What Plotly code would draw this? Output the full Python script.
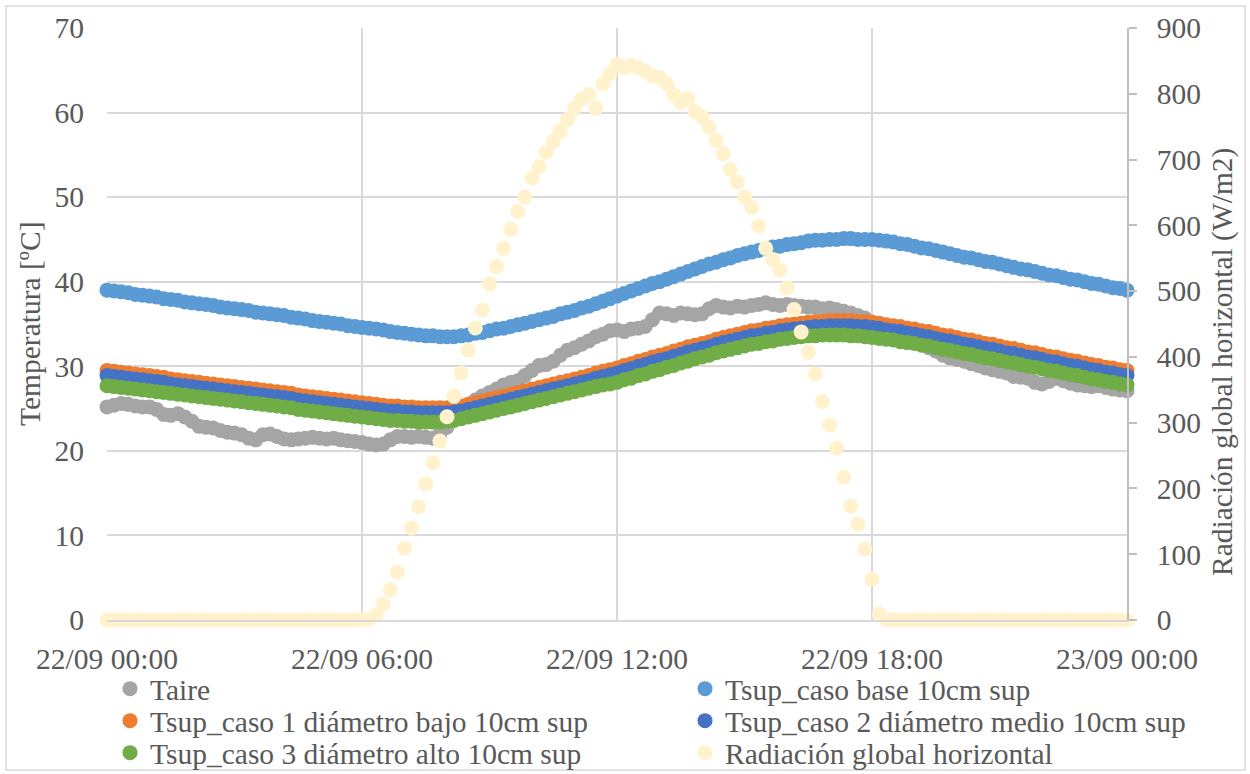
import pandas as pd
import plotly.graph_objects as go

# ---------------- data (10-minute samples, 22/09 00:00 -> 23/09 00:00) ----------------
taire = [
    25.2, 25.4, 25.6, 25.5, 25.3, 25.2,
    25.2, 24.9, 24.3, 24.2, 24.4, 24.0,
    23.5, 22.9, 22.8, 22.7, 22.4, 22.2,
    22.1, 21.9, 21.5, 21.3, 21.9, 22.0,
    21.7, 21.4, 21.3, 21.4, 21.5, 21.6,
    21.5, 21.4, 21.5, 21.3, 21.2, 21.1,
    21.0, 20.8, 20.7, 20.8, 21.3, 21.7,
    21.7, 21.6, 21.7, 21.6, 21.5, 22.0,
    22.8, 23.7, 24.6, 25.4, 26.0, 26.5,
    26.9, 27.3, 27.8, 28.1, 28.3, 28.9,
    29.5, 30.1, 30.2, 30.6, 31.3, 31.9,
    32.2, 32.6, 33.0, 33.5, 33.8, 34.2,
    34.3, 34.1, 34.4, 34.5, 34.7, 35.5,
    36.3, 36.2, 36.0, 36.3, 36.2, 36.1,
    36.2, 36.8, 37.2, 37.0, 36.9, 37.1,
    37.0, 37.2, 37.3, 37.5, 37.3, 37.2,
    37.3, 37.2, 37.1, 37.0, 37.0, 36.8,
    36.9, 36.7, 36.5, 36.3, 36.0, 35.7,
    35.2, 34.8, 34.4, 34.1, 33.8, 33.4,
    33.0, 32.6, 32.2, 31.8, 31.3, 31.0,
    30.8, 30.6, 30.3, 30.1, 29.8, 29.6,
    29.4, 29.2, 28.8, 28.7, 28.6, 28.1,
    27.9, 28.2, 28.6, 28.3, 28.0, 27.8,
    27.7, 27.6, 27.7, 27.5, 27.3, 27.2,
    27.1,
]

tsup_base = [
    39.0, 38.9, 38.8, 38.7, 38.5, 38.4,
    38.3, 38.2, 38.0, 37.9, 37.8, 37.6,
    37.5, 37.4, 37.3, 37.2, 37.0, 36.9,
    36.8, 36.7, 36.6, 36.4, 36.3, 36.2,
    36.1, 36.0, 35.8, 35.7, 35.6, 35.4,
    35.3, 35.2, 35.1, 35.0, 34.8, 34.7,
    34.6, 34.5, 34.4, 34.3, 34.1, 34.0,
    33.9, 33.8, 33.7, 33.6, 33.6, 33.5,
    33.5, 33.5, 33.6, 33.7, 33.9, 34.0,
    34.2, 34.4, 34.5, 34.7, 34.9, 35.1,
    35.3, 35.5, 35.7, 35.9, 36.2, 36.4,
    36.6, 36.9, 37.1, 37.4, 37.7, 38.0,
    38.3, 38.6, 38.9, 39.2, 39.5, 39.8,
    40.0, 40.3, 40.6, 40.9, 41.2, 41.5,
    41.8, 42.1, 42.3, 42.6, 42.8, 43.1,
    43.3, 43.5, 43.7, 43.9, 44.1, 44.2,
    44.4, 44.5, 44.6, 44.8, 44.9, 44.9,
    45.0, 45.0, 45.1, 45.1, 45.0, 45.0,
    45.0, 44.9, 44.8, 44.7, 44.5, 44.4,
    44.2, 44.0, 43.9, 43.7, 43.5, 43.3,
    43.1, 42.9, 42.8, 42.6, 42.4, 42.3,
    42.1, 41.9, 41.7, 41.5, 41.4, 41.2,
    41.0, 40.8, 40.7, 40.5, 40.3, 40.2,
    40.0, 39.8, 39.7, 39.5, 39.3, 39.2,
    39.0,
]

tsup_caso1 = [
    29.5, 29.4, 29.3, 29.2, 29.1, 29.0,
    28.9, 28.8, 28.7, 28.5, 28.4, 28.3,
    28.2, 28.1, 28.0, 27.9, 27.8, 27.7,
    27.6, 27.5, 27.4, 27.3, 27.2, 27.1,
    27.0, 26.9, 26.8, 26.6, 26.5, 26.4,
    26.3, 26.2, 26.1, 26.0, 25.9, 25.8,
    25.7, 25.6, 25.5, 25.4, 25.3, 25.3,
    25.2, 25.2, 25.1, 25.1, 25.1, 25.1,
    25.1, 25.2, 25.3, 25.5, 25.7, 25.9,
    26.1, 26.3, 26.5, 26.7, 26.9, 27.1,
    27.3, 27.5, 27.7, 27.9, 28.1, 28.3,
    28.5, 28.7, 28.9, 29.2, 29.4, 29.6,
    29.8, 30.1, 30.3, 30.6, 30.8, 31.1,
    31.3, 31.5, 31.8, 32.0, 32.3, 32.5,
    32.7, 32.9, 33.2, 33.4, 33.6, 33.8,
    34.0, 34.2, 34.3, 34.5, 34.6, 34.8,
    34.9, 35.0, 35.1, 35.2, 35.3, 35.3,
    35.4, 35.4, 35.4, 35.4, 35.3, 35.3,
    35.2, 35.1, 34.9, 34.8, 34.7, 34.5,
    34.4, 34.2, 34.1, 33.9, 33.7, 33.6,
    33.4, 33.2, 33.1, 32.9, 32.7, 32.6,
    32.4, 32.2, 32.1, 31.9, 31.7, 31.6,
    31.4, 31.2, 31.1, 30.9, 30.7, 30.6,
    30.4, 30.2, 30.1, 29.9, 29.8, 29.6,
    29.5,
]

tsup_caso2 = [
    28.9, 28.8, 28.7, 28.6, 28.5, 28.4,
    28.3, 28.2, 28.1, 27.9, 27.8, 27.7,
    27.6, 27.5, 27.4, 27.3, 27.2, 27.1,
    27.0, 26.9, 26.8, 26.7, 26.6, 26.5,
    26.4, 26.3, 26.2, 26.0, 25.9, 25.8,
    25.7, 25.6, 25.5, 25.4, 25.3, 25.2,
    25.1, 25.0, 24.9, 24.8, 24.7, 24.7,
    24.6, 24.6, 24.5, 24.5, 24.5, 24.5,
    24.5, 24.6, 24.7, 24.9, 25.1, 25.3,
    25.5, 25.7, 25.9, 26.1, 26.3, 26.5,
    26.7, 26.9, 27.1, 27.3, 27.5, 27.7,
    27.9, 28.1, 28.3, 28.6, 28.8, 29.0,
    29.2, 29.5, 29.7, 30.0, 30.2, 30.5,
    30.7, 30.9, 31.2, 31.4, 31.7, 31.9,
    32.1, 32.3, 32.6, 32.8, 33.0, 33.2,
    33.4, 33.6, 33.7, 33.9, 34.0, 34.2,
    34.3, 34.4, 34.5, 34.6, 34.7, 34.7,
    34.8, 34.8, 34.8, 34.8, 34.7, 34.7,
    34.6, 34.5, 34.3, 34.2, 34.1, 33.9,
    33.8, 33.6, 33.5, 33.3, 33.1, 33.0,
    32.8, 32.6, 32.5, 32.3, 32.1, 32.0,
    31.8, 31.6, 31.5, 31.3, 31.1, 31.0,
    30.8, 30.6, 30.5, 30.3, 30.1, 30.0,
    29.8, 29.6, 29.5, 29.3, 29.2, 29.0,
    28.9,
]

tsup_caso3 = [
    27.7, 27.6, 27.5, 27.4, 27.3, 27.2,
    27.1, 27.0, 26.9, 26.8, 26.7, 26.6,
    26.5, 26.4, 26.3, 26.2, 26.1, 26.0,
    25.9, 25.8, 25.7, 25.6, 25.5, 25.4,
    25.3, 25.2, 25.1, 24.9, 24.8, 24.7,
    24.6, 24.5, 24.4, 24.3, 24.2, 24.1,
    24.0, 23.9, 23.8, 23.7, 23.6, 23.6,
    23.5, 23.5, 23.4, 23.4, 23.4, 23.4,
    23.5, 23.6, 23.8, 24.0, 24.2, 24.4,
    24.6, 24.8, 25.0, 25.2, 25.4, 25.6,
    25.8, 26.0, 26.2, 26.4, 26.6, 26.8,
    27.0, 27.2, 27.4, 27.6, 27.8, 27.9,
    28.1, 28.4, 28.6, 28.9, 29.1, 29.4,
    29.6, 29.9, 30.1, 30.4, 30.6, 30.9,
    31.1, 31.3, 31.6, 31.8, 32.0, 32.2,
    32.4, 32.6, 32.7, 32.9, 33.0, 33.2,
    33.3, 33.4, 33.5, 33.6, 33.6, 33.7,
    33.7, 33.7, 33.7, 33.6, 33.6, 33.5,
    33.4, 33.3, 33.2, 33.1, 32.9, 32.8,
    32.7, 32.5, 32.4, 32.2, 32.0, 31.9,
    31.7, 31.5, 31.4, 31.2, 31.0, 30.9,
    30.7, 30.5, 30.4, 30.2, 30.0, 29.9,
    29.7, 29.5, 29.4, 29.2, 29.0, 28.9,
    28.7, 28.5, 28.4, 28.2, 28.1, 27.9,
    27.8,
]

radiacion = [
    0, 0, 0, 0, 0, 0,
    0, 0, 0, 0, 0, 0,
    0, 0, 0, 0, 0, 0,
    0, 0, 0, 0, 0, 0,
    0, 0, 0, 0, 0, 0,
    0, 0, 0, 0, 0, 0,
    0, 1, 8, 24, 46, 73,
    109, 140, 172, 207, 239, 272,
    309, 340, 375, 410, 444, 471,
    511, 537, 565, 594, 621, 643,
    672, 689, 711, 728, 743, 761,
    778, 792, 799, 778, 815, 830,
    845, 840, 843, 840, 834, 827,
    825, 815, 799, 787, 792, 773,
    765, 749, 729, 709, 685, 666,
    643, 627, 599, 565, 548, 532,
    505, 472, 438, 407, 374, 332,
    296, 261, 217, 173, 146, 108,
    62, 9, 1, 0, 0, 0,
    0, 0, 0, 0, 0, 0,
    0, 0, 0, 0, 0, 0,
    0, 0, 0, 0, 0, 0,
    0, 0, 0, 0, 0, 0,
    0, 0, 0, 0, 0, 0,
    0,
]

series_names = [
    "Taire",
    "Tsup_caso base 10cm sup",
    "Tsup_caso 1 diámetro bajo 10cm sup",
    "Tsup_caso 2 diámetro medio 10cm sup",
    "Tsup_caso 3 diámetro alto 10cm sup",
    "Radiación global horizontal",
]
series_colors = ["#A5A5A5", "#5B9BD5", "#ED7D31", "#4472C4", "#70AD47", "#FFF2CC"]

x_tick_vals = ["2023-09-22 00:00", "2023-09-22 06:00", "2023-09-22 12:00",
               "2023-09-22 18:00", "2023-09-23 00:00"]
x_tick_text = ["22/09 00:00", "22/09 06:00", "22/09 12:00", "22/09 18:00", "23/09 00:00"]

times = pd.date_range("2023-09-22 00:00", periods=len(taire), freq="10min")

# ---------------- figure ----------------
FONT = "Liberation Serif"
FS = 29.5
TXT = "#595959"
W, H = 1250, 774
ML, MR, MT, MB = 107, 123, 28, 154
PW, PH = W - ML - MR, H - MT - MB


def px2paper_x(px):
    return (px - ML) / PW


def px2paper_y(py):
    return (H - MB - py) / PH


fig = go.Figure()

data_list = [taire, tsup_base, tsup_caso1, tsup_caso2, tsup_caso3, radiacion]
legend_ids = ["legend", "legend2", "legend3", "legend4", "legend5", "legend6"]
for i, (name, vals, col) in enumerate(zip(series_names, data_list, series_colors)):
    fig.add_trace(go.Scatter(
        x=times, y=vals, name=name, mode="markers",
        marker=dict(color=col, size=15, line=dict(width=0)),
        yaxis="y2" if i == 5 else "y",
        cliponaxis=False,
        legend=legend_ids[i],
    ))

# legend placement: column 1 (Taire, caso 1, caso 3), column 2 (base, caso 2, radiación)
col_x = [px2paper_x(110), px2paper_x(685)]
row_y = [px2paper_y(689), px2paper_y(721), px2paper_y(753)]
legend_pos = [(0, 0), (1, 0), (0, 1), (1, 1), (0, 2), (1, 2)]
legend_layout = {}
for lid, (c, r) in zip(legend_ids, legend_pos):
    legend_layout[lid] = dict(
        x=col_x[c], y=row_y[r], xanchor="left", yanchor="middle",
        font=dict(family=FONT, size=FS, color=TXT),
        bgcolor="rgba(0,0,0,0)", borderwidth=0, itemwidth=30,
    )

fig.update_layout(
    width=W, height=H,
    margin=dict(l=ML, r=MR, t=MT, b=MB, autoexpand=False),
    paper_bgcolor="white", plot_bgcolor="white",
    font=dict(family=FONT, size=FS, color=TXT),
    showlegend=True,
    xaxis=dict(
        type="date",
        range=[x_tick_vals[0], x_tick_vals[-1]],
        tickvals=x_tick_vals, ticktext=x_tick_text,
        showgrid=True, gridcolor="#D9D9D9", gridwidth=1.5,
        showline=True, linecolor="#D9D9D9", linewidth=1.5,
        ticks="", ticklabelstandoff=12,
        tickfont=dict(family=FONT, size=FS, color=TXT),
        zeroline=False,
    ),
    yaxis=dict(
        range=[0, 70], tickvals=[0, 10, 20, 30, 40, 50, 60, 70],
        showgrid=True, gridcolor="#D9D9D9", gridwidth=1.5,
        showline=False, zeroline=False, ticks="",
        ticklabelstandoff=22,
        tickfont=dict(family=FONT, size=FS, color=TXT),
    ),
    yaxis2=dict(
        range=[0, 900], tickvals=[0, 100, 200, 300, 400, 500, 600, 700, 800, 900],
        overlaying="y", side="right",
        showgrid=False, zeroline=False,
        showline=True, linecolor="#BFBFBF", linewidth=1.5,
        ticks="outside", ticklen=8, tickcolor="#BFBFBF", tickwidth=1.5,
        ticklabelstandoff=14,
        tickfont=dict(family=FONT, size=FS, color=TXT),
    ),
    **legend_layout,
)

# axis titles
fig.add_annotation(
    text="Temperatura [ºC]", xref="paper", yref="paper",
    x=px2paper_x(30), y=px2paper_y(324), xanchor="center", yanchor="middle",
    textangle=-90, showarrow=False, font=dict(family=FONT, size=FS, color=TXT),
)
fig.add_annotation(
    text="Radiación global horizontal (W/m2)", xref="paper", yref="paper",
    x=px2paper_x(1222), y=px2paper_y(362), xanchor="center", yanchor="middle",
    textangle=-90, showarrow=False, font=dict(family=FONT, size=FS, color=TXT),
)

# chart-area border
fig.add_shape(
    type="rect", xref="paper", yref="paper",
    x0=px2paper_x(6), x1=px2paper_x(1245), y0=px2paper_y(770), y1=px2paper_y(6),
    line=dict(color="#D9D9D9", width=1.5), fillcolor="rgba(0,0,0,0)", layer="below",
)

fig.write_html("out.html")
